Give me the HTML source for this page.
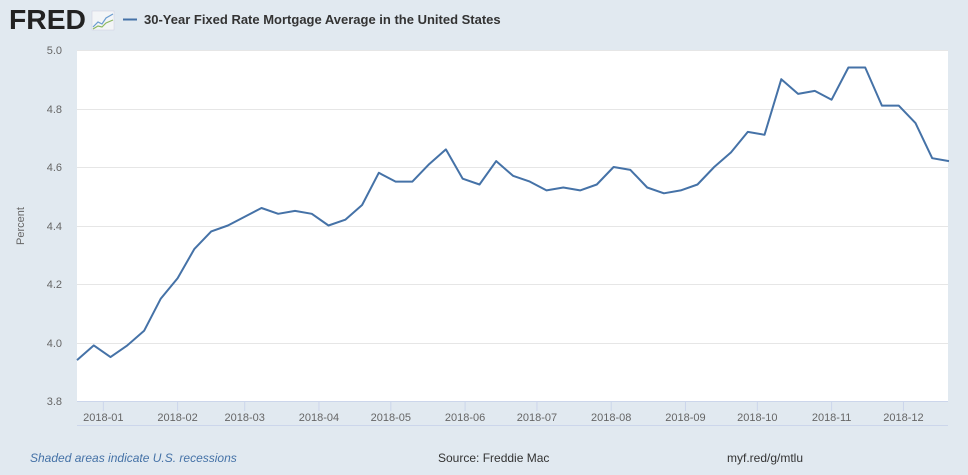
<!DOCTYPE html>
<html><head><meta charset="utf-8"><style>
body{margin:0;width:968px;height:470px;background:#e1e9f0;overflow:hidden;font-family:"Liberation Sans",sans-serif}
</style></head><body>
<svg width="968" height="470" xmlns="http://www.w3.org/2000/svg" font-family="Liberation Sans, sans-serif">
<rect width="968" height="470" fill="#e1e9f0"/>
<text x="9" y="29" font-size="28" font-weight="bold" fill="#222" textLength="77" lengthAdjust="spacingAndGlyphs">FRED</text>
<rect x="92" y="11" width="22" height="19" fill="#f3f5f7" stroke="#ccd" stroke-width="0.5"/>
<polyline points="93,27 98,22 102,24 106,18 113,14" fill="none" stroke="#6a9ccf" stroke-width="1.2"/>
<polyline points="93,29 98,26 102,27 106,23 113,20" fill="none" stroke="#8cb860" stroke-width="1.2"/>
<line x1="123" y1="19.5" x2="137" y2="19.5" stroke="#4572a7" stroke-width="2"/>
<text x="144" y="24" font-size="13" font-weight="bold" fill="#333">30-Year Fixed Rate Mortgage Average in the United States</text>
<rect x="77" y="50" width="871" height="351" fill="#fff"/>
<g stroke="#e6e6e6" stroke-width="1">
<line x1="77" x2="948" y1="50.5" y2="50.5"/><line x1="77" x2="948" y1="109.5" y2="109.5"/>
<line x1="77" x2="948" y1="167.5" y2="167.5"/><line x1="77" x2="948" y1="226.5" y2="226.5"/>
<line x1="77" x2="948" y1="284.5" y2="284.5"/><line x1="77" x2="948" y1="343.5" y2="343.5"/>
</g>
<line x1="77" x2="948" y1="401.5" y2="401.5" stroke="#ccd6eb"/>
<line x1="77" x2="948" y1="425.5" y2="425.5" stroke="#ccd6eb"/>
<g font-size="11" fill="#666" text-anchor="end">
<text x="62" y="54">5.0</text><text x="62" y="113">4.8</text><text x="62" y="171">4.6</text>
<text x="62" y="230">4.4</text><text x="62" y="288">4.2</text><text x="62" y="347">4.0</text><text x="62" y="405">3.8</text>
</g>
<text transform="translate(24,226) rotate(-90)" font-size="11" fill="#666" text-anchor="middle">Percent</text>
<g id="ticks" font-size="11" fill="#666" text-anchor="middle"></g>
<polyline id="ln" fill="none" stroke="#4572a7" stroke-width="2" stroke-linejoin="round"/>
<text x="30" y="462" font-size="12" font-style="italic" fill="#4572a7">Shaded areas indicate U.S. recessions</text>
<text x="438" y="462" font-size="12" fill="#333">Source: Freddie Mac</text>
<text x="727" y="462" font-size="12" fill="#333">myf.red/g/mtlu</text>
</svg>
<script>
var d=[3.94,3.99,3.95,3.99,4.04,4.15,4.22,4.32,4.38,4.40,4.43,4.46,4.44,4.45,4.44,4.40,4.42,4.47,4.58,4.55,4.55,4.61,4.66,4.56,4.54,4.62,4.57,4.55,4.52,4.53,4.52,4.54,4.60,4.59,4.53,4.51,4.52,4.54,4.60,4.65,4.72,4.71,4.90,4.85,4.86,4.83,4.94,4.94,4.81,4.81,4.75,4.63,4.62];
var px=872/52,pts=[];
d.forEach(function(v,i){pts.push((77+i*px).toFixed(1)+","+(50+(5-v)*292.5).toFixed(1));});
document.getElementById("ln").setAttribute("points",pts.join(" "));
var days=[11,42,70,101,131,162,192,223,254,284,315,345],g=document.getElementById("ticks"),s="";
days.forEach(function(dd,i){var x=77+dd*872/364;var m=("0"+(i+1)).slice(-2);
s+='<line x1="'+x+'" x2="'+x+'" y1="401" y2="411" stroke="#ccd6eb"/><text x="'+x+'" y="421">2018-'+m+'</text>';});
g.innerHTML=s;
</script>
</body></html>
